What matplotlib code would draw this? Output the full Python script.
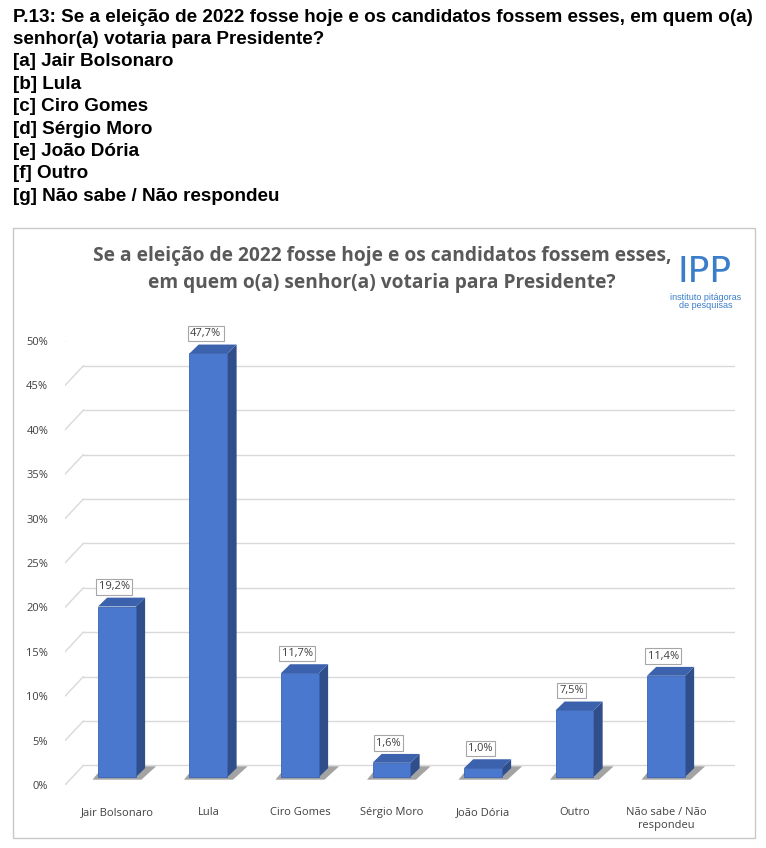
import matplotlib.pyplot as plt
from matplotlib.patches import Rectangle, Polygon

plt.rcParams["font.family"] = "Liberation Sans"

categories = ["Jair Bolsonaro", "Lula", "Ciro Gomes", "Sérgio Moro", "João Dória", "Outro", "Não sabe / Não\nrespondeu"]
values = [19.2, 47.7, 11.7, 1.6, 1.0, 7.5, 11.4]
labels = ["19,2%", "47,7%", "11,7%", "1,6%", "1,0%", "7,5%", "11,4%"]
yticks = [0, 5, 10, 15, 20, 25, 30, 35, 40, 45, 50]

header = ["P.13: Se a eleição de 2022 fosse hoje e os candidatos fossem esses, em quem o(a)",
          "senhor(a) votaria para Presidente?",
          "[a] Jair Bolsonaro", "[b] Lula", "[c] Ciro Gomes", "[d] Sérgio Moro",
          "[e] João Dória", "[f] Outro", "[g] Não sabe / Não respondeu"]

W, H = 766, 848
fig = plt.figure(figsize=(W / 100, H / 100), dpi=100)

for i, line in enumerate(header):
    fig.text(13 / W, 1 - (17 + i * 22.4) / H, line, fontsize=13.6, fontweight="bold",
             va="center", ha="left")

# chart frame
fig.patches.append(Rectangle((13 / W, 1 - 838 / H), 742 / W, 610 / H, transform=fig.transFigure,
                             fill=False, edgecolor="#c8c8c8", lw=1))
fig.text(382 / W, 1 - 256 / H, "Se a eleição de 2022 fosse hoje e os candidatos fossem esses,",
         fontsize=13.8, fontweight="bold", color="#595959", ha="center", va="center",
         family="Open Sans")
fig.text(382 / W, 1 - 283 / H, "em quem o(a) senhor(a) votaria para Presidente?",
         fontsize=13.8, fontweight="bold", color="#595959", ha="center", va="center",
         family="Open Sans")
# logo
fig.text(705 / W, 1 - 272 / H, "IPP", fontsize=26, color="#3a7dc9", ha="center", va="center",
         family="DejaVu Sans")
fig.text(706 / W, 1 - 297 / H, "instituto pitágoras", fontsize=6.5, color="#3a7dc9", ha="center", va="center")
fig.text(706 / W, 1 - 306 / H, "de pesquisas", fontsize=6.5, color="#3a7dc9", ha="center", va="center")

ax = fig.add_axes([65 / W, 1 - 785 / H, 670 / W, 444 / H])
ax.set_xlim(-0.568, 6.754)
ax.set_ylim(0, 50)
for s in ax.spines.values():
    s.set_visible(False)
ax.set_yticks(yticks)
ax.set_yticklabels([f"{t}%" for t in yticks], fontsize=8, color="#404040", family="Open Sans")
ax.tick_params(length=0, pad=12)
ax.set_xticks(range(len(categories)))
ax.set_xticklabels(categories, fontsize=8, color="#404040", family="Open Sans")
ax.tick_params(axis="x", pad=16)

dx, dy = 0.1, 1.0
base = 0.9
for t in yticks:
    ax.plot([-0.568 + dx * 2, 6.754], [t + dy * 2.2, t + dy * 2.2], color="#d9d9d9", lw=1, zorder=0)
    ax.plot([-0.568, -0.568 + dx * 2], [t, t + dy * 2.2], color="#d9d9d9", lw=1, zorder=0)

bw = 0.415
for i, v in enumerate(values):
    x0 = i - bw / 2
    # shadow
    ax.add_patch(Polygon([[x0 - 0.06, base - 0.3], [x0 + bw + 0.06, base - 0.3],
                          [x0 + bw + dx + 0.12, base + dy + 0.2], [x0 + dx - 0.04, base + dy + 0.2]],
                         closed=True, color="#333333", alpha=0.45, zorder=1, lw=0))
    ax.add_patch(Polygon([[x0 + bw, base], [x0 + bw + dx, base + dy], [x0 + bw + dx, base + v + dy],
                          [x0 + bw, base + v]],
                         closed=True, facecolor="#2f4e8a", edgecolor="none", zorder=2))
    ax.add_patch(Polygon([[x0, base + v], [x0 + bw, base + v], [x0 + bw + dx, base + v + dy],
                          [x0 + dx, base + v + dy]],
                         closed=True, facecolor="#3c62ad", edgecolor="none", zorder=2))
    ax.add_patch(Rectangle((x0, base), bw, v, facecolor="#4a78cf", edgecolor="#3a63b0", lw=0.6, zorder=3))
    ax.text(i - 0.03, base + v + dy + 0.6, labels[i], ha="center", va="bottom", fontsize=8, color="#404040",
            family="Open Sans", zorder=4,
            bbox=dict(boxstyle="square,pad=0.2", facecolor="white", edgecolor="#a6a6a6", lw=0.8))

fig.savefig("out.png", dpi=100)
